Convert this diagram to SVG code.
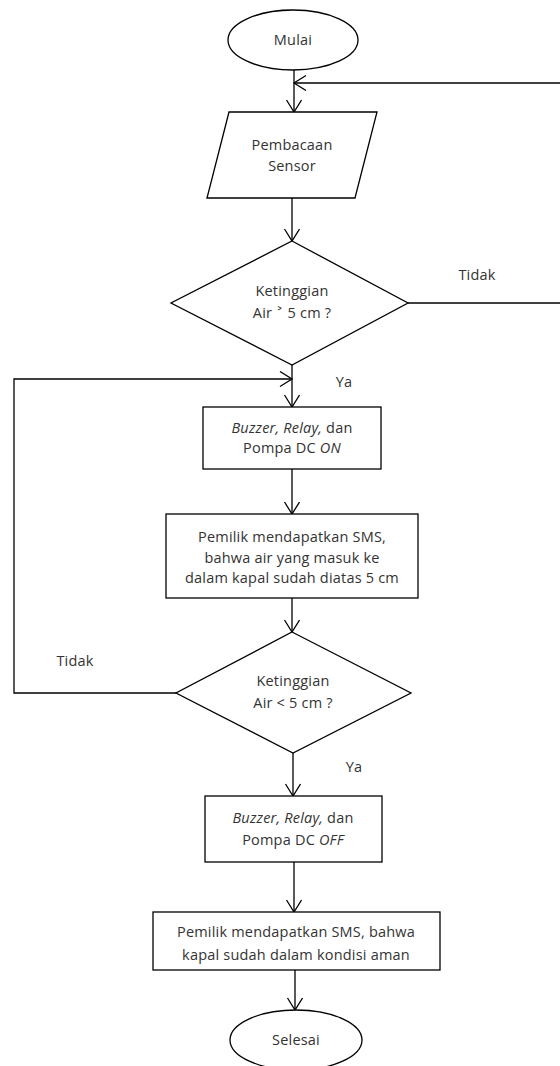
<svg xmlns="http://www.w3.org/2000/svg" width="560" height="1066" viewBox="0 0 560 1066">
<defs>
<style>
.s{fill:#fff;stroke:#000;stroke-width:1.3}
.c{fill:none;stroke:#000;stroke-width:1.3}
text{font-family:"Open Sans","DejaVu Sans",sans-serif;font-size:14.5px;letter-spacing:0.2px;fill:#333;text-anchor:middle}
.i{font-style:italic}
</style>
<marker id="a" markerUnits="userSpaceOnUse" markerWidth="20" markerHeight="20" refX="13" refY="8" orient="auto">
<path d="M1,0.5 L13,8 L1,15.5" fill="none" stroke="#000" stroke-width="1.3"/>
</marker>
</defs>
<rect width="560" height="1066" fill="#fff"/>
<g id="connectors">
<line class="c" x1="294" y1="70" x2="294" y2="112" marker-end="url(#a)"/>
<line class="c" x1="560" y1="83" x2="294" y2="83" marker-end="url(#a)"/>
<line class="c" x1="292" y1="198" x2="292" y2="241" marker-end="url(#a)"/>
<line class="c" x1="408" y1="303" x2="560" y2="303"/>
<line class="c" x1="292" y1="365" x2="292" y2="407" marker-end="url(#a)"/>
<polyline class="c" points="176,693 14,693 14,379 292,379" marker-end="url(#a)"/>
<line class="c" x1="292" y1="469" x2="292" y2="514" marker-end="url(#a)"/>
<line class="c" x1="292" y1="598" x2="292" y2="632" marker-end="url(#a)"/>
<line class="c" x1="293" y1="753" x2="293" y2="796" marker-end="url(#a)"/>
<line class="c" x1="294" y1="862" x2="294" y2="912" marker-end="url(#a)"/>
<line class="c" x1="295" y1="970" x2="295" y2="1010" marker-end="url(#a)"/>
<text x="477" y="280">Tidak</text>
<text x="344" y="387">Ya</text>
<text x="75" y="666">Tidak</text>
<text x="354" y="772">Ya</text>
</g>
<g id="mulai">
<ellipse class="s" cx="293" cy="40" rx="65" ry="30"/>
<text x="293" y="45">Mulai</text>
</g>
<g id="sensor">
<polygon class="s" points="229,112 377,112 355,198 207,198"/>
<text x="292" y="150">Pembacaan</text>
<text x="292" y="171">Sensor</text>
</g>
<g id="cek1">
<polygon class="s" points="292,241 408,303 292,365 171,303"/>
<text x="292" y="296">Ketinggian</text>
<text x="292" y="318">Air ˃ 5 cm ?</text>
</g>
<g id="on">
<rect class="s" x="203" y="407" width="178" height="62"/>
<text x="292" y="433"><tspan class="i">Buzzer, Relay,</tspan> dan</text>
<text x="292" y="453">Pompa DC <tspan class="i">ON</tspan></text>
</g>
<g id="sms1">
<rect class="s" x="166" y="514" width="252" height="84"/>
<text x="292" y="542">Pemilik mendapatkan SMS,</text>
<text x="292" y="563">bahwa air yang masuk ke</text>
<text x="292" y="583">dalam kapal sudah diatas 5 cm</text>
</g>
<g id="cek2">
<polygon class="s" points="292,632 411,693 293,753 176,693"/>
<text x="293" y="686">Ketinggian</text>
<text x="293" y="708">Air &lt; 5 cm ?</text>
</g>
<g id="off">
<rect class="s" x="205" y="796" width="177" height="66"/>
<text x="293" y="823"><tspan class="i">Buzzer, Relay,</tspan> dan</text>
<text x="293" y="845">Pompa DC <tspan class="i">OFF</tspan></text>
</g>
<g id="sms2">
<rect class="s" x="153" y="912" width="287" height="58"/>
<text x="296" y="937">Pemilik mendapatkan SMS, bahwa</text>
<text x="296" y="960">kapal sudah dalam kondisi aman</text>
</g>
<g id="selesai">
<ellipse class="s" cx="296" cy="1040" rx="66" ry="30"/>
<text x="296" y="1045">Selesai</text>
</g>
</svg>
